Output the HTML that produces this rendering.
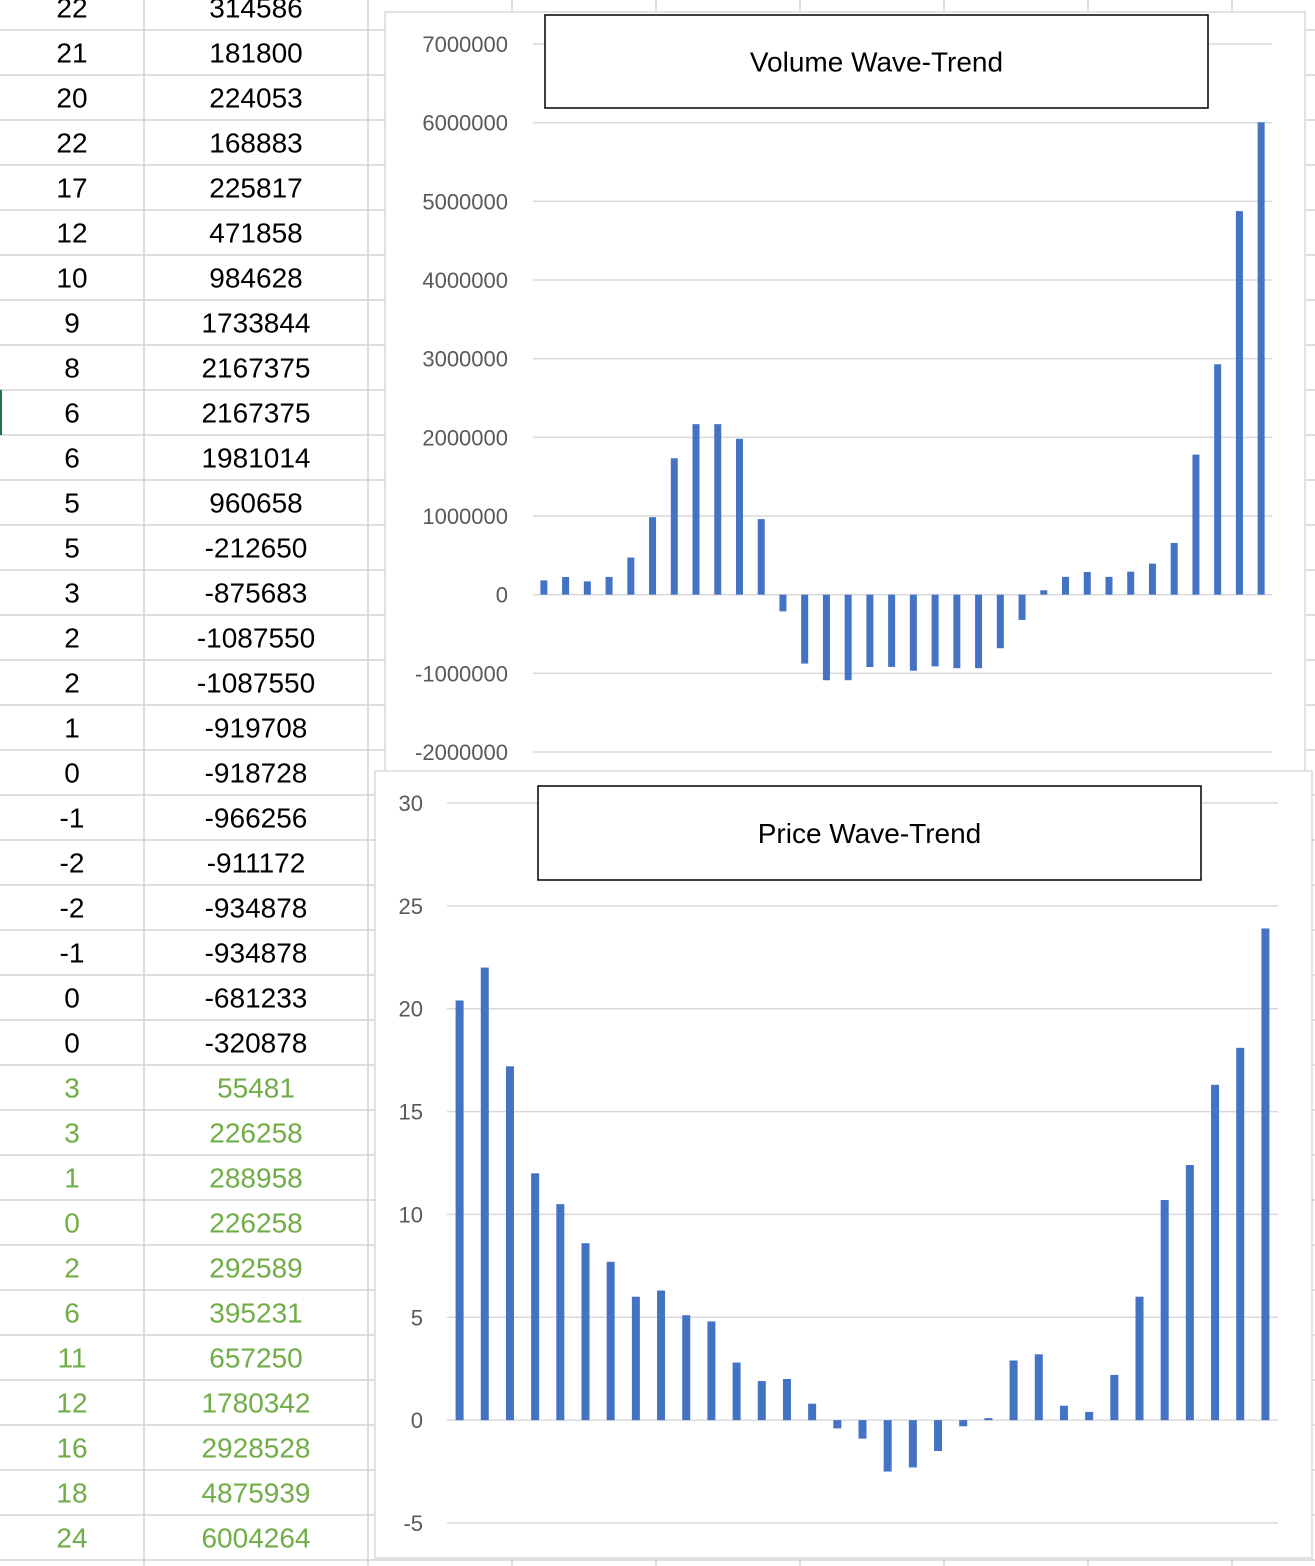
<!DOCTYPE html>
<html><head><meta charset="utf-8">
<style>
html,body{margin:0;padding:0;background:#fff;}
svg{display:block;font-family:"Liberation Sans",Carlito,sans-serif;}
</style></head>
<body>
<svg id="page" width="1315" height="1566" viewBox="0 0 1315 1566" xmlns="http://www.w3.org/2000/svg">
<g id="grid"></g>
<g id="cells"></g>
<g id="vol"></g>
<g id="price"></g>
</svg>
<script>
const NS="http://www.w3.org/2000/svg";
const colA=[22,21,20,22,17,12,10,9,8,6,6,5,5,3,2,2,1,0,-1,-2,-2,-1,0,0,3,3,1,0,2,6,11,12,16,18,24];
const colB=[314586,181800,224053,168883,225817,471858,984628,1733844,2167375,2167375,1981014,960658,-212650,-875683,-1087550,-1087550,-919708,-918728,-966256,-911172,-934878,-934878,-681233,-320878,55481,226258,288958,226258,292589,395231,657250,1780342,2928528,4875939,6004264];
const volumeValues=[181800,224053,168883,225817,471858,984628,1733844,2167375,2167375,1981014,960658,-212650,-875683,-1087550,-1087550,-919708,-918728,-966256,-911172,-934878,-934878,-681233,-320878,55481,226258,288958,226258,292589,395231,657250,1780342,2928528,4875939,6004264];
const volumeTicks=[7000000,6000000,5000000,4000000,3000000,2000000,1000000,0,-1000000,-2000000];
const priceValues=[20.4,22,17.2,12,10.5,8.6,7.7,6,6.3,5.1,4.8,2.8,1.9,2,0.8,-0.4,-0.9,-2.5,-2.3,-1.5,-0.3,0.1,2.9,3.2,0.7,0.4,2.2,6,10.7,12.4,16.3,18.1,23.9];
const priceTicks=[30,25,20,15,10,5,0,-5];

function mk(tag,attrs,parent,text){const e=document.createElementNS(NS,tag);for(const k in attrs)e.setAttribute(k,attrs[k]);if(text!==undefined)e.textContent=text;parent.appendChild(e);return e;}

// sheet grid
const grid=document.getElementById('grid');
for(let k=0;k<=35;k++){const y=30+45*k;mk('line',{x1:0,x2:1315,y1:y,y2:y,stroke:'#d4d4d4','stroke-width':1.5},grid);}
[144,368,512,656,800,944,1088,1232].forEach(x=>mk('line',{x1:x,x2:x,y1:0,y2:1566,stroke:'#d4d4d4','stroke-width':1.5},grid));
mk('rect',{x:0,y:390,width:2,height:45,fill:'#217346'},grid);
const cells=document.getElementById('cells');
colA.forEach((v,k)=>{
  const y=7.5+45*k+10, col=k>=24?'#70ad47':'#000';
  const a=mk('text',{x:72,y:y,'text-anchor':'middle','font-size':28,fill:col},cells,String(v));
  
  
  const b=mk('text',{x:256,y:y,'text-anchor':'middle','font-size':28,fill:col},cells,String(colB[k]));
  
  
});

function chart(g,box,plot,ticks,vals,barW,title,titleBox){
  mk('rect',{x:box[0],y:box[1],width:box[2],height:box[3],fill:'#fff',stroke:'#d9d9d9','stroke-width':1.5},g);
  const tMax=ticks[0],tMin=ticks[ticks.length-1];
  const yS=v=>plot.top+(tMax-v)/(tMax-tMin)*(plot.bottom-plot.top);
  ticks.forEach(t=>{
    const y=yS(t);
    const l=mk('line',{x1:plot.left,x2:plot.right,y1:y,y2:y,stroke:'#d9d9d9','stroke-width':1.5},g);
    
    
    const tx=mk('text',{x:plot.labelX,y:y+8,'text-anchor':'end','font-size':22,fill:'#595959'},g,String(t));
    
    
  });
  const n=vals.length, step=(plot.right-plot.left)/n;
  const xS=i=>plot.left+step*(i+0.5);
  vals.forEach((v,i)=>{
    const y0=yS(0),y1=yS(v);
    const r=mk('rect',{x:xS(i)-barW/2,y:Math.min(y0,y1),width:barW,height:Math.abs(y1-y0),fill:'#4472c4'},g);
    
    
  });
  const tb=mk('rect',{x:titleBox[0],y:titleBox[1],width:titleBox[2],height:titleBox[3],fill:'#fff',stroke:'#000','stroke-width':1.5},g);
  
  
  const tt=mk('text',{x:titleBox[0]+titleBox[2]/2,y:titleBox[1]+titleBox[3]/2+10,'text-anchor':'middle','font-size':28,fill:'#000'},g,title);
  
  
}
chart(document.getElementById('vol'),[385,12,920,773],{left:533,right:1272,top:44,bottom:752,labelX:508},volumeTicks,volumeValues,7,'Volume Wave-Trend',[545,15,663,93]);
chart(document.getElementById('price'),[375,771,937,787],{left:447,right:1278,top:803,bottom:1523,labelX:423},priceTicks,priceValues,8,'Price Wave-Trend',[538,786,663,94]);
</script>
</body></html>
